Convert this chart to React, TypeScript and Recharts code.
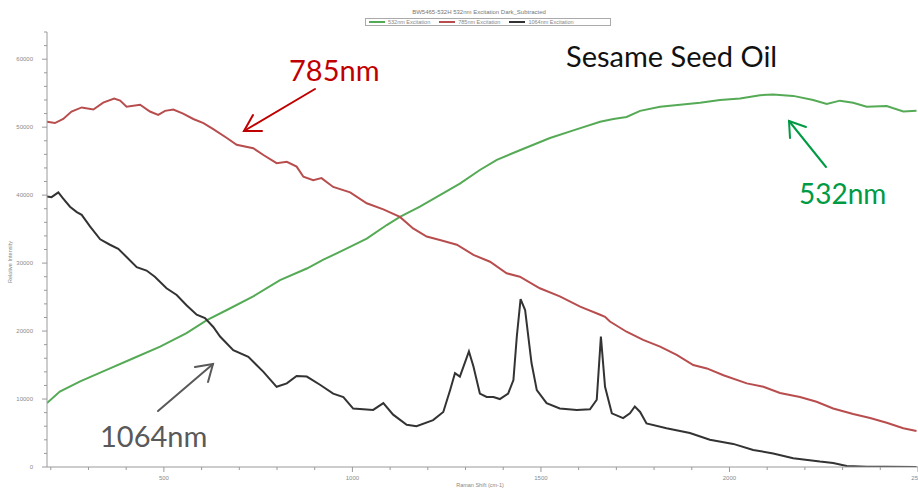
import React from 'react'
import { LineChart, Line, XAxis, YAxis } from 'recharts'

// Raman shift (cm-1) and relative intensity
const shift532 = [
  190, 224, 278, 348, 419, 490, 560, 614, 667, 737, 808, 879, 923, 976, 1038, 1091, 1126, 1179,
  1232, 1285, 1338, 1383, 1444, 1524, 1590, 1657, 1692, 1727, 1763, 1816, 1869, 1922, 1975, 2028,
  2081, 2116, 2169, 2222, 2258, 2293, 2328, 2364, 2417, 2461, 2496,
]
const int532 = [
  9400, 11100, 12600, 14300, 16000, 17700, 19700, 21600, 23100, 25100, 27500, 29200, 30500, 31900,
  33600, 35600, 36800, 38300, 40000, 41700, 43700, 45200, 46600, 48400, 49600, 50800, 51200, 51500,
  52400, 53000, 53300, 53600, 54000, 54200, 54700, 54800, 54600, 54000, 53400, 53900, 53600, 53000,
  53100, 52300, 52400,
]

const shift785 = [
  190, 211, 233, 255, 282, 313, 339, 368, 384, 401, 437, 463, 485, 503, 525, 551, 578, 605, 631,
  667, 693, 737, 764, 799, 826, 852, 870, 896, 918, 949, 994, 1038, 1082, 1126, 1161, 1197, 1232,
  1277, 1321, 1365, 1409, 1444, 1497, 1550, 1604, 1657, 1670, 1683, 1727, 1771, 1816, 1860, 1904,
  1940, 1984, 2046, 2090, 2134, 2187, 2231, 2275, 2328, 2373, 2417, 2461, 2496,
]
const int785 = [
  50800, 50600, 51200, 52300, 52900, 52600, 53600, 54200, 53900, 53000, 53300, 52300, 51800, 52400,
  52600, 52000, 51200, 50600, 49700, 48400, 47400, 46900, 45900, 44700, 44900, 44200, 42700, 42200,
  42500, 41200, 40400, 38800, 37900, 36800, 35100, 33900, 33400, 32700, 31200, 30200, 28500, 28000,
  26300, 25100, 23600, 22400, 22100, 21400, 19900, 18700, 17700, 16500, 15000, 14500, 13500, 12300,
  11800, 10900, 10300, 9600, 8600, 7800, 7200, 6500, 5700, 5300,
]

const shift1064 = [
  190, 202, 220, 233, 251, 269, 282, 304, 331, 357, 379, 401, 428, 454, 476, 507, 534, 560, 587,
  609, 631, 649, 684, 724, 764, 799, 826, 852, 879, 914, 949, 976, 1002, 1055, 1082, 1108, 1144,
  1170, 1214, 1241, 1259, 1272, 1285, 1309, 1321, 1338, 1356, 1374, 1391, 1413, 1427, 1436, 1446,
  1458, 1475, 1489, 1515, 1550, 1595, 1630, 1648, 1659, 1670, 1688, 1718, 1736, 1749, 1763, 1780,
  1833, 1895, 1948, 2010, 2063, 2116, 2169, 2240, 2275, 2311, 2364, 2417, 2496,
]
const int1064 = [
  39800, 39700, 40400, 39500, 38300, 37500, 37100, 35400, 33500, 32700, 32100, 30900, 29400, 28900,
  28000, 26300, 25300, 23800, 22400, 21900, 20600, 19200, 17200, 16200, 14000, 11800, 12300, 13400,
  13300, 12100, 10800, 10300, 8600, 8400, 9400, 7700, 6200, 6000, 6900, 8100, 11300, 13800, 13300,
  17000, 14800, 10800, 10300, 10300, 10000, 10800, 12800, 19200, 24700, 23100, 15300, 11300, 9400,
  8600, 8400, 8500, 9900, 19200, 11800, 7900, 7200, 7900, 8900, 8100, 6400, 5700, 5000, 4000, 3400,
  2500, 2000, 1300, 800, 600, 150, 50, 50, 0,
]

const xMajorStep = 500
const yMajorStep = 10000

const xTicks: number[] = []
for (let v = 200; v <= 2500; v += 100) xTicks.push(v)
const yTicks: number[] = []
for (let v = 0; v <= 64000; v += 2000) yTicks.push(v)

const series = [
  { name: '532nm Excitation', color: '#55aa55', shift: shift532, values: int532, xAxis: 'top' },
  { name: '785nm Excitation', color: '#b84d4e', shift: shift785, values: int785, xAxis: 'x' },
  { name: '1064nm Excitation', color: '#333333', shift: shift1064, values: int1064, xAxis: 'x' },
]

const axisColor = '#9a9a9a'
const labelFont = 'Liberation Sans, Arial, sans-serif'
const TICK = 5
const MARGIN = 4

// one axis carries both major (labelled) and minor ticks
function XTick(props: any) {
  const { x, y, payload } = props
  const base = y - TICK - MARGIN
  const major = payload.value % xMajorStep === 0
  return (
    <g>
      <line x1={x} y1={base} x2={x} y2={base + (major ? 5 : 3)} stroke={axisColor} />
      {major && (
        <text x={x} y={y} dy="0.71em" textAnchor="middle" fontSize={6} fill="#8a8a8a" fontFamily={labelFont}>
          {payload.value}
        </text>
      )}
    </g>
  )
}

function YTick(props: any) {
  const { x, y, payload } = props
  const base = x + TICK + MARGIN + 5
  const major = payload.value % yMajorStep === 0
  return (
    <g>
      <line x1={base - (major ? 5 : 3)} y1={y} x2={base} y2={y} stroke={axisColor} />
      {major && (
        <text x={x} y={y} dy="0.355em" textAnchor="end" fontSize={6} fill="#8a8a8a" fontFamily={labelFont}>
          {payload.value}
        </text>
      )}
    </g>
  )
}

export default function App() {
  return (
    <div style={{ position: 'absolute', left: 0, top: 0, width: 918, height: 489, background: '#fff' }}>
      <LineChart width={918} height={489} margin={{ top: 32, right: 0, bottom: 0, left: 0 }}>
        <XAxis
          xAxisId="x"
          dataKey="shift"
          type="number"
          domain={[190, 2500]}
          allowDataOverflow
          ticks={xTicks}
          interval={0}
          height={22}
          tickLine={false}
          tickSize={TICK}
          tickMargin={MARGIN}
          tick={<XTick />}
          stroke={axisColor}
        />
        <XAxis
          xAxisId="top"
          orientation="top"
          dataKey="shift"
          type="number"
          domain={[190, 2500]}
          allowDataOverflow
          ticks={xTicks}
          interval={0}
          tickFormatter={() => ''}
          height={0}
          tickSize={3}
          stroke={axisColor}
        />
        <YAxis
          yAxisId="y"
          type="number"
          domain={[0, 64000]}
          allowDataOverflow
          ticks={yTicks}
          interval={0}
          width={47}
          tickLine={false}
          tickSize={TICK}
          tickMargin={MARGIN + 5}
          tick={<YTick />}
          stroke={axisColor}
        />
        {series.map((s) => (
          <Line
            key={s.name}
            xAxisId={s.xAxis}
            yAxisId="y"
            data={s.shift.map((x, i) => ({ shift: x, value: s.values[i] }))}
            dataKey="value"
            name={s.name}
            stroke={s.color}
            strokeWidth={2}
            dot={false}
            type="linear"
            isAnimationActive={false}
          />
        ))}
      </LineChart>

      {/* header: title + boxed legend */}
      <div
        style={{
          position: 'absolute', left: 0, top: 9, width: 958, textAlign: 'center',
          fontSize: 6, color: '#777', fontFamily: labelFont,
        }}
      >
        BW5465-532H 532nm Excitation Dark_Subtracted
      </div>
      <div
        style={{
          position: 'absolute', left: 365, top: 18, width: 246, height: 8, border: '1px solid #aaa',
          display: 'flex', alignItems: 'center', gap: 9, paddingLeft: 3, boxSizing: 'border-box',
          fontSize: 5.5, color: '#888', fontFamily: labelFont, whiteSpace: 'nowrap',
        }}
      >
        {series.map((s) => (
          <span key={s.name} style={{ display: 'flex', alignItems: 'center', gap: 3 }}>
            <span style={{ display: 'inline-block', width: 16, height: 2, background: s.color }} />
            {s.name}
          </span>
        ))}
      </div>

      {/* axis titles and annotations */}
      <svg width={918} height={489} style={{ position: 'absolute', left: 0, top: 0, pointerEvents: 'none' }}>
        <text x={480} y={487} textAnchor="middle" fontSize={5.5} fill="#888" fontFamily={labelFont}>
          Raman Shift (cm-1)
        </text>
        <text
          x={12} y={262} textAnchor="middle" fontSize={5.5} fill="#888" fontFamily={labelFont}
          transform="rotate(-90 12 262)"
        >
          Relative Intensity
        </text>
        <g fontFamily="Lato, 'Open Sans', sans-serif">
          <text x={566} y={67} fontSize={29} fill="#111">Sesame Seed Oil</text>
          <text x={289} y={81} fontSize={29} fill="#c00000">785nm</text>
          <text x={799} y={204} fontSize={28} fill="#009a44">532nm</text>
          <text x={100} y={447} fontSize={29} fill="#595959">1064nm</text>
        </g>
        <g fill="none" strokeWidth={2} strokeLinecap="round">
          <g stroke="#c00000">
            <line x1={315} y1={89} x2={244} y2={131} />
            <polyline points="253,115 244,131 262,131" />
          </g>
          <g stroke="#009a44">
            <line x1={826} y1={167} x2={789} y2={121} />
            <polyline points="790,138 789,121 806,127" />
          </g>
          <g stroke="#595959">
            <line x1={158} y1={411} x2={213} y2={364} />
            <polyline points="195,367 213,364 208,382" />
          </g>
        </g>
      </svg>
    </div>
  )
}
